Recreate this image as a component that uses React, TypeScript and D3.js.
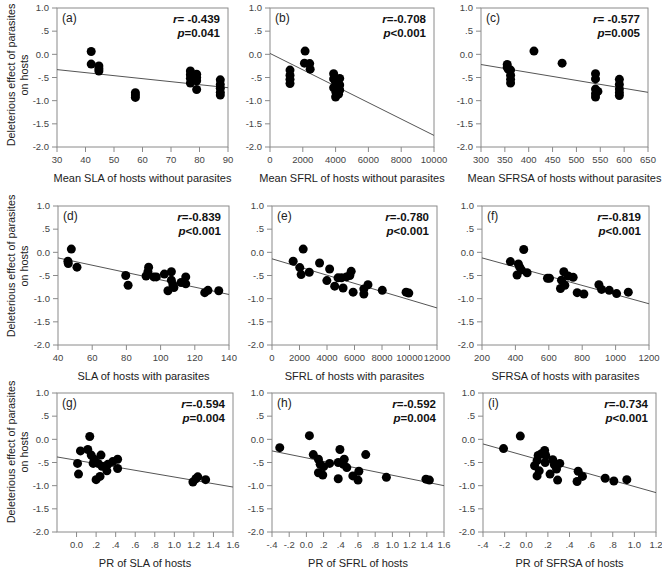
import React from 'react';
import * as d3 from 'd3';

// shared y axis
const yTickValues = [1, 0.5, 0, -0.5, -1, -1.5, -2];
const yTickLabels = ['1.0', '.5', '0.0', '-.5', '-1.0', '-1.5', '-2.0'];

// (a) Mean SLA without parasites
const aX = [42, 42, 44.7, 44.7, 44.7, 57.5, 57.5, 57.5, 76.8, 76.8, 76.8, 76.8, 77.5, 79, 79, 79, 79, 87.3, 87.3, 87.3, 87.3, 87.3];
const aY = [0.06, -0.21, -0.25, -0.31, -0.36, -0.83, -0.88, -0.93, -0.36, -0.44, -0.52, -0.62, -0.55, -0.43, -0.5, -0.57, -0.76, -0.55, -0.65, -0.73, -0.82, -0.88];
const aFit = [-0.33, -0.72];

// (b) Mean SFRL without parasites
const bX = [1220, 1220, 1220, 1220, 2140, 2100, 2420, 2450, 3880, 3880, 3880, 4000, 4020, 4000, 4250, 4250, 4250, 4180];
const bY = [-0.34, -0.45, -0.54, -0.63, 0.07, -0.19, -0.2, -0.32, -0.42, -0.53, -0.72, -0.6, -0.82, -0.92, -0.52, -0.66, -0.77, -0.86];
const bFit = [0.02, -1.75];

// (c) Mean SFRSA without parasites
const cX = [411, 470, 355, 355, 357, 362, 362, 362, 362, 540, 540, 540, 540, 540, 545, 590, 590, 590, 590, 590];
const cY = [0.07, -0.19, -0.22, -0.28, -0.32, -0.34, -0.45, -0.54, -0.62, -0.42, -0.53, -0.75, -0.85, -0.92, -0.8, -0.54, -0.65, -0.75, -0.83, -0.89];
const cFit = [-0.22, -0.82];

// (d) SLA with parasites
const dX = [47.8, 45.8, 46, 51.1, 79.6, 81, 93, 92.6, 91.5, 96, 97.5, 102.2, 106.3, 106.3, 104.3, 107.8, 107.2, 112, 114.7, 114.7, 125.8, 127.7, 134];
const dY = [0.07, -0.19, -0.24, -0.32, -0.5, -0.71, -0.32, -0.42, -0.51, -0.53, -0.53, -0.47, -0.42, -0.6, -0.83, -0.76, -0.7, -0.65, -0.53, -0.68, -0.87, -0.82, -0.83];
const dFit = [-0.12, -0.91];

// (e) SFRL with parasites
const eX = [1540, 2020, 2120, 2270, 2710, 3460, 4190, 3990, 4560, 4800, 5050, 5170, 5410, 5660, 5760, 5900, 6680, 6680, 6980, 8020, 9750, 9950];
const eY = [-0.19, -0.33, -0.48, 0.07, -0.43, -0.23, -0.36, -0.61, -0.73, -0.55, -0.55, -0.77, -0.53, -0.5, -0.41, -0.86, -0.79, -0.9, -0.7, -0.82, -0.86, -0.88];
const eFit = [-0.14, -1.2];

// (f) SFRSA with parasites
const fX = [370, 410, 418, 426, 450, 436, 470, 592, 604, 670, 676, 696, 690, 716, 746, 770, 810, 900, 916, 962, 1006, 1076];
const fY = [-0.2, -0.49, -0.25, -0.32, 0.06, -0.38, -0.44, -0.56, -0.56, -0.78, -0.6, -0.71, -0.42, -0.51, -0.54, -0.87, -0.9, -0.7, -0.8, -0.82, -0.89, -0.86];
const fFit = [-0.12, -1.11];

// (g) PR of SLA
const gX = [0.01, 0.02, 0.04, 0.115, 0.135, 0.15, 0.18, 0.17, 0.22, 0.2, 0.24, 0.25, 0.26, 0.31, 0.32, 0.37, 0.42, 0.42, 1.19, 1.22, 1.24, 1.32];
const gY = [-0.52, -0.75, -0.25, -0.22, 0.06, -0.34, -0.43, -0.52, -0.52, -0.87, -0.8, -0.34, -0.58, -0.68, -0.54, -0.48, -0.43, -0.63, -0.92, -0.85, -0.81, -0.87];
const gFit = [-0.38, -1.03];

// (h) PR of SFRL
const hX = [-0.31, 0.035, 0.08, 0.14, 0.16, 0.14, 0.19, 0.2, 0.27, 0.37, 0.39, 0.37, 0.44, 0.43, 0.47, 0.54, 0.6, 0.61, 0.69, 0.93, 1.39, 1.43];
const hY = [-0.18, 0.08, -0.33, -0.43, -0.54, -0.72, -0.77, -0.59, -0.52, -0.85, -0.22, -0.5, -0.43, -0.54, -0.61, -0.79, -0.88, -0.69, -0.33, -0.82, -0.86, -0.88];
const hFit = [-0.25, -1.0];

// (i) PR of SFRSA
const iX = [-0.21, -0.055, 0.077, 0.1, 0.11, 0.1, 0.12, 0.14, 0.17, 0.18, 0.175, 0.245, 0.26, 0.22, 0.28, 0.29, 0.31, 0.47, 0.48, 0.52, 0.73, 0.81, 0.93];
const iY = [-0.2, 0.07, -0.57, -0.46, -0.35, -0.79, -0.68, -0.31, -0.24, -0.35, -0.5, -0.44, -0.55, -0.75, -0.64, -0.88, -0.52, -0.91, -0.69, -0.8, -0.84, -0.9, -0.87];
const iFit = [-0.1, -1.15];

// x tick labels
const ticksA = [30, 40, 50, 60, 70, 80, 90];
const ticksB = [0, 2000, 4000, 6000, 8000, 10000];
const ticksC = [300, 350, 400, 450, 500, 550, 600, 650];
const ticksD = [40, 60, 80, 100, 120, 140];
const ticksE = [0, 2000, 4000, 6000, 8000, 10000, 12000];
const ticksF = [200, 400, 600, 800, 1000, 1200];
const ticksG = [0, 0.2, 0.4, 0.6, 0.8, 1.0, 1.2, 1.4, 1.6];
const labelsG = ['0.0', '.2', '.4', '.6', '.8', '1.0', '1.2', '1.4', '1.6'];
const ticksH = [-0.4, -0.2, 0, 0.2, 0.4, 0.6, 0.8, 1.0, 1.2, 1.4, 1.6];
const labelsH = ['-.4', '-.2', '0.0', '.2', '.4', '.6', '.8', '1.0', '1.2', '1.4', '1.6'];
const ticksI = [-0.4, -0.2, 0, 0.2, 0.4, 0.6, 0.8, 1.0, 1.2];
const labelsI = ['-.4', '-.2', '0.0', '.2', '.4', '.6', '.8', '1.0', '1.2'];

const titles = [
  'Mean SLA of hosts without parasites', 'Mean SFRL of hosts without parasites', 'Mean SFRSA of hosts without parasites',
  'SLA of hosts with parasites', 'SFRL of hosts with parasites', 'SFRSA of hosts with parasites',
  'PR of SLA of  hosts', 'PR of  SFRL of hosts', 'PR of SFRSA of hosts',
];
const rTexts = ['= -0.439', '=-0.708', '= -0.577', '=-0.839', '=-0.780', '=-0.819', '=-0.594', '=-0.592', '=-0.734'];
const pTexts = ['=0.041', '<0.001', '=0.005', '<0.001', '<0.001', '<0.001', '=0.004', '=0.004', '<0.001'];
const tags = ['(a)', '(b)', '(c)', '(d)', '(e)', '(f)', '(g)', '(h)', '(i)'];

// layout (pixels)
const rows = [[8, 147], [206, 345], [393, 532]];
const yLabelCenters = [75, 266, 452];
const panels = [
  { xs: aX, ys: aY, fit: aFit, dom: [30, 90], rng: [57, 228], ticks: ticksA, labels: null, row: 0 },
  { xs: bX, ys: bY, fit: bFit, dom: [0, 10000], rng: [270, 434], ticks: ticksB, labels: null, row: 0 },
  { xs: cX, ys: cY, fit: cFit, dom: [300, 650], rng: [481, 648], ticks: ticksC, labels: null, row: 0 },
  { xs: dX, ys: dY, fit: dFit, dom: [40, 140], rng: [58, 229], ticks: ticksD, labels: null, row: 1 },
  { xs: eX, ys: eY, fit: eFit, dom: [0, 12000], rng: [272, 437], ticks: ticksE, labels: null, row: 1 },
  { xs: fX, ys: fY, fit: fFit, dom: [200, 1200], rng: [482, 649], ticks: ticksF, labels: null, row: 1 },
  { xs: gX, ys: gY, fit: gFit, dom: [-0.2, 1.6], rng: [57, 233], ticks: ticksG, labels: labelsG, row: 2 },
  { xs: hX, ys: hY, fit: hFit, dom: [-0.4, 1.6], rng: [272, 444], ticks: ticksH, labels: labelsH, row: 2 },
  { xs: iX, ys: iY, fit: iFit, dom: [-0.4, 1.2], rng: [483, 656], ticks: ticksI, labels: labelsI, row: 2 },
];

const font = '"Liberation Sans", Arial, sans-serif';
const axisColor = '#8a8a8a';
const tickText = '#444';

const Panel: React.FC<{ p: typeof panels[number]; idx: number }> = ({ p, idx }) => {
  const [top, bottom] = rows[p.row];
  const x = d3.scaleLinear().domain(p.dom).range(p.rng);
  const y = d3.scaleLinear().domain([-2, 1]).range([bottom, top]);
  const [x0, x1] = p.rng;
  const line = d3.line<[number, number]>().x(d => x(d[0])).y(d => y(d[1]));
  const fitPts: [number, number][] = [[p.dom[0], p.fit[0]], [p.dom[1], p.fit[1]]];

  return (
    <g>
      <rect x={x0} y={top} width={x1 - x0} height={bottom - top} fill="none" stroke={axisColor} strokeWidth={1} />
      {yTickValues.map((v, k) => (
        <g key={'y' + k}>
          <line x1={x0 - 5} x2={x0} y1={y(v)} y2={y(v)} stroke={axisColor} />
          <text x={x0 - 8} y={y(v)} dy="0.35em" textAnchor="end" fontSize={9.5} fill={tickText}>{yTickLabels[k]}</text>
        </g>
      ))}
      {p.ticks.map((v, k) => (
        <g key={'x' + k}>
          <line x1={x(v)} x2={x(v)} y1={bottom} y2={bottom + 5} stroke={axisColor} />
          <text x={x(v)} y={bottom + 16} textAnchor="middle" fontSize={9.5} fill={tickText}>
            {p.labels ? p.labels[k] : String(v)}
          </text>
        </g>
      ))}
      <path d={line(fitPts) || ''} stroke="#555" strokeWidth={1} fill="none" />
      {p.xs.map((v, k) => (
        <circle key={'c' + k} cx={x(v)} cy={y(p.ys[k])} r={4.5} fill="#000" />
      ))}
      <text x={x0 + 5} y={top + 14} fontSize={12} fill="#222">{tags[idx]}</text>
      <text x={x1 - 8} y={top + 15} textAnchor="end" fontSize={11.5} fontWeight="bold" fill="#111">
        <tspan fontStyle="italic">r</tspan>{rTexts[idx]}
      </text>
      <text x={x1 - 8} y={top + 28.5} textAnchor="end" fontSize={11.5} fontWeight="bold" fill="#111">
        <tspan fontStyle="italic">p</tspan>{pTexts[idx]}
      </text>
      <text x={(x0 + x1) / 2} y={bottom + 35} textAnchor="middle" fontSize={11} fill="#222">{titles[idx]}</text>
    </g>
  );
};

const App: React.FC = () => {
  return (
    <svg width={662} height={570} style={{ position: 'absolute', left: 0, top: 0, background: '#fff' }} fontFamily={font}>
      {yLabelCenters.map((cy, r) => (
        <g key={'yl' + r} fontSize={10.8} fill="#222" textAnchor="middle">
          <text transform={`translate(15,${cy}) rotate(-90)`}>Deleterious effect of parasites</text>
          <text transform={`translate(28,${cy}) rotate(-90)`}>on hosts</text>
        </g>
      ))}
      {panels.map((p, k) => <Panel key={k} p={p} idx={k} />)}
    </svg>
  );
};

export default App;
